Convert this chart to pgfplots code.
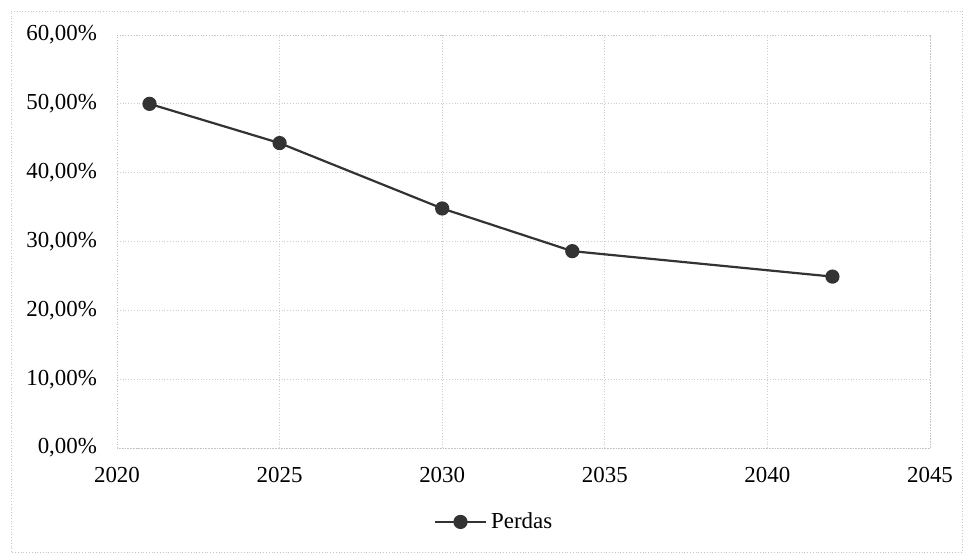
\documentclass[border=0pt]{standalone}
\usepackage{pgfplots}
\pgfplotsset{compat=1.18}
\usepackage{fontspec}
\setmainfont{Liberation Serif}
\definecolor{ln}{HTML}{333333}
\begin{document}
\begin{tikzpicture}
\path[use as bounding box] (-58.5bp,-55bp) rectangle (427bp,224bp);
\draw[densely dotted, gray!45] (-53bp,-52bp) rectangle (422.5bp,218.5bp);
\begin{axis}[
  at={(0,0)}, anchor=south west,
  scale only axis, width=406.5bp, height=206.5bp,
  xmin=2020, xmax=2045, ymin=0, ymax=60,
  xtick={2020,2025,...,2045}, ytick={0,10,...,60},
  major tick length=0pt,
  grid=major,
  grid style={gray!40, densely dotted},
  axis line style={gray!50, densely dotted},
  font=\fontsize{11.5}{13}\selectfont,
  /pgf/number format/assume math mode=true,
  xticklabel style={/pgf/number format/1000 sep={}, yshift=-6bp},
  yticklabel={\pgfmathprintnumber[fixed,fixed zerofill,precision=2,use comma]{\tick}\%},
  yticklabel style={xshift=-6.5bp},
  legend style={at={(0.465,-0.179)}, anchor=center, draw=none, fill=none, font=\fontsize{11.5}{13}\selectfont},
  legend cell align=left,
  legend image code/.code={
    \draw[#1, mark repeat=2, mark phase=2] plot coordinates {(0cm,0cm) (0.45cm,0cm) (0.9cm,0cm)};
  },
]
\addplot[color=ln, line width=1.1bp, mark=*, mark size=3bp, mark options={fill=ln, draw=ln}]
  coordinates {(2021,50.0) (2025,44.3) (2030,34.8) (2034,28.6) (2042,24.9)};
\addlegendentry{Perdas}
\end{axis}
\end{tikzpicture}
\end{document}
